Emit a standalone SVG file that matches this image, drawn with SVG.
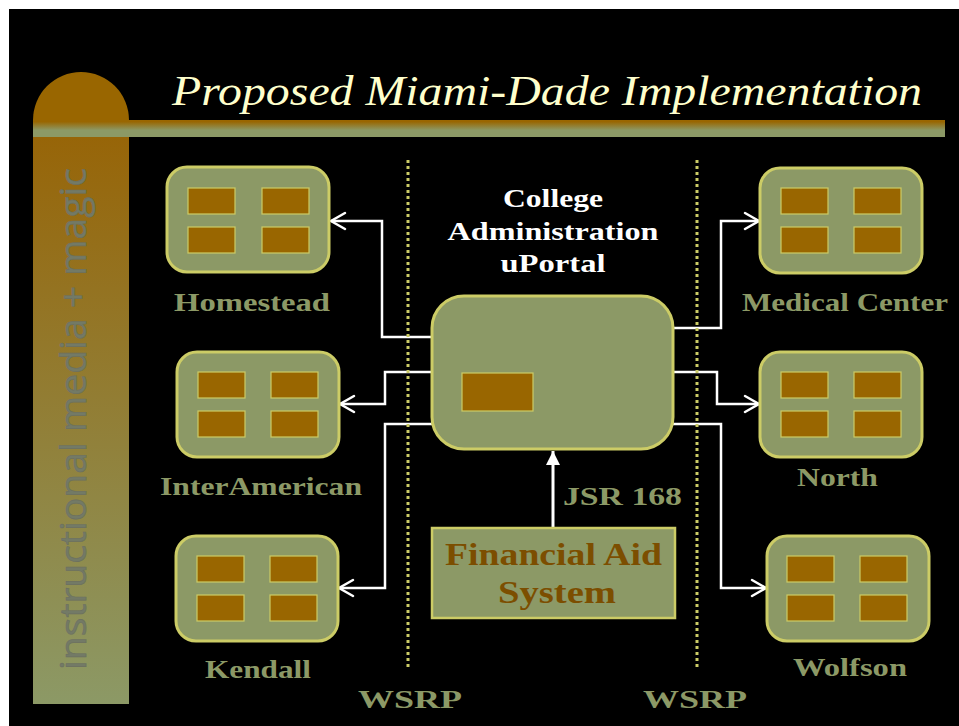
<svg xmlns="http://www.w3.org/2000/svg" width="959" height="726" viewBox="0 0 959 726">
  <defs>
    <linearGradient id="sideBar" x1="0" y1="0" x2="0" y2="1">
      <stop offset="0" stop-color="#976508"/>
      <stop offset="1" stop-color="#8c9966"/>
    </linearGradient>
    <linearGradient id="ruleBar" x1="0" y1="0" x2="0" y2="1">
      <stop offset="0.1" stop-color="#996600"/>
      <stop offset="0.6" stop-color="#8c9966"/>
      <stop offset="1" stop-color="#8c9966"/>
    </linearGradient>
    <marker id="openArrow" markerUnits="userSpaceOnUse" markerWidth="18" markerHeight="20" viewBox="0 0 18 20" refX="16" refY="10" orient="auto">
      <path d="M2,2 L16,10 L2,18" fill="none" stroke="#ffffff" stroke-width="2.5" stroke-linecap="round"/>
    </marker>
    <marker id="solidArrow" markerUnits="userSpaceOnUse" markerWidth="16" markerHeight="14" viewBox="0 0 16 14" refX="14" refY="7" orient="auto">
      <path d="M0,0 L14,7 L0,14 Z" fill="#ffffff"/>
    </marker>
  </defs>
  <style>
    .site { fill: #8c9966; stroke: #cccc66; stroke-width: 3; }
    .slot { fill: #996600; stroke: #cccc66; stroke-width: 1.2; }
    .label { font-family: "Liberation Serif", "DejaVu Serif", serif; font-weight: bold; fill: #8c9966; font-size: 26px; }
    .head { font-family: "Liberation Serif", "DejaVu Serif", serif; font-weight: bold; fill: #ffffff; font-size: 25px; text-anchor: middle; }
    .fin { font-family: "Liberation Serif", "DejaVu Serif", serif; font-weight: bold; fill: #7c4e00; font-size: 32px; }
    .link { fill: none; stroke: #ffffff; stroke-width: 2.5; marker-end: url(#openArrow); }
    .divider { stroke: #cccc66; stroke-width: 3; stroke-dasharray: 3 3; }
  </style>

  <!-- slide background -->
  <rect x="0" y="0" width="959" height="726" fill="#ffffff"/>
  <rect x="9" y="9" width="950" height="717" fill="#000000"/>

  <!-- side bar with rounded cap and header rule -->
  <path d="M33,120 A48,48 0 0 1 129,120 Z" fill="#996600"/>
  <rect x="33" y="137" width="96" height="567" fill="url(#sideBar)"/>
  <rect x="33" y="120" width="912" height="17" fill="url(#ruleBar)"/>
  <text transform="translate(86,670) rotate(-90)" font-family="'Open Sans', 'DejaVu Sans', sans-serif" font-weight="400" font-size="36" fill="#737a66" stroke="#6c7060" stroke-width="0.6" textLength="502" lengthAdjust="spacingAndGlyphs">instructional media + magic</text>

  <!-- title -->
  <text x="172" y="105" font-family="'Liberation Serif', 'DejaVu Serif', serif" font-style="italic" font-size="43" fill="#ffffcc" textLength="750" lengthAdjust="spacingAndGlyphs">Proposed Miami-Dade Implementation</text>

  <!-- connectors -->
  <g id="connectors">
    <path class="link" d="M437,337 H382 V221 H331"/>
    <path class="link" d="M433,372 H385 V404 H340"/>
    <path class="link" d="M433,424 H385 V588 H339"/>
    <path class="link" d="M672,328 H721 V221 H759"/>
    <path class="link" d="M672,372 H717 V404 H759"/>
    <path class="link" d="M672,424 H721 V588 H766"/>
    <path d="M553,528 V451" fill="none" stroke="#ffffff" stroke-width="3" marker-end="url(#solidArrow)"/>
    <line class="divider" x1="408" y1="160" x2="408" y2="670"/>
    <line class="divider" x1="697" y1="160" x2="697" y2="670"/>
  </g>

  <!-- campus portals -->
  <g id="homestead">
    <rect class="site" x="167" y="167" width="162" height="105" rx="20"/>
    <rect class="slot" x="188" y="188" width="47" height="26"/>
    <rect class="slot" x="262" y="188" width="47" height="26"/>
    <rect class="slot" x="188" y="227" width="47" height="26"/>
    <rect class="slot" x="262" y="227" width="47" height="26"/>
    <text class="label" x="174" y="311" textLength="156" lengthAdjust="spacingAndGlyphs">Homestead</text>
  </g>
  <g id="interamerican">
    <rect class="site" x="177" y="352" width="162" height="105" rx="20"/>
    <rect class="slot" x="198" y="372" width="47" height="26"/>
    <rect class="slot" x="271" y="372" width="47" height="26"/>
    <rect class="slot" x="198" y="411" width="47" height="26"/>
    <rect class="slot" x="271" y="411" width="47" height="26"/>
    <text class="label" x="160" y="495" textLength="202" lengthAdjust="spacingAndGlyphs">InterAmerican</text>
  </g>
  <g id="kendall">
    <rect class="site" x="176" y="536" width="162" height="105" rx="20"/>
    <rect class="slot" x="197" y="556" width="47" height="26"/>
    <rect class="slot" x="270" y="556" width="47" height="26"/>
    <rect class="slot" x="197" y="595" width="47" height="26"/>
    <rect class="slot" x="270" y="595" width="47" height="26"/>
    <text class="label" x="205" y="678" textLength="106" lengthAdjust="spacingAndGlyphs">Kendall</text>
  </g>
  <g id="medical-center">
    <rect class="site" x="760" y="168" width="162" height="105" rx="20"/>
    <rect class="slot" x="781" y="188" width="47" height="26"/>
    <rect class="slot" x="854" y="188" width="47" height="26"/>
    <rect class="slot" x="781" y="227" width="47" height="26"/>
    <rect class="slot" x="854" y="227" width="47" height="26"/>
    <text class="label" x="742" y="311" textLength="206" lengthAdjust="spacingAndGlyphs">Medical Center</text>
  </g>
  <g id="north">
    <rect class="site" x="760" y="352" width="162" height="105" rx="20"/>
    <rect class="slot" x="781" y="372" width="47" height="26"/>
    <rect class="slot" x="854" y="372" width="47" height="26"/>
    <rect class="slot" x="781" y="411" width="47" height="26"/>
    <rect class="slot" x="854" y="411" width="47" height="26"/>
    <text class="label" x="797" y="486" textLength="81" lengthAdjust="spacingAndGlyphs">North</text>
  </g>
  <g id="wolfson">
    <rect class="site" x="767" y="536" width="162" height="105" rx="20"/>
    <rect class="slot" x="787" y="556" width="47" height="26"/>
    <rect class="slot" x="860" y="556" width="47" height="26"/>
    <rect class="slot" x="787" y="595" width="47" height="26"/>
    <rect class="slot" x="860" y="595" width="47" height="26"/>
    <text class="label" x="793" y="676" textLength="114" lengthAdjust="spacingAndGlyphs">Wolfson</text>
  </g>

  <!-- central college portal -->
  <g id="college-portal">
    <text class="head" x="553" y="207" textLength="100" lengthAdjust="spacingAndGlyphs">College</text>
    <text class="head" x="553" y="240" textLength="211" lengthAdjust="spacingAndGlyphs">Administration</text>
    <text class="head" x="553" y="272" textLength="105" lengthAdjust="spacingAndGlyphs">uPortal</text>
    <rect class="site" x="432" y="296" width="241" height="153" rx="32"/>
    <rect class="slot" x="462" y="373" width="71" height="38"/>
  </g>

  <!-- producer system -->
  <g id="financial-aid">
    <rect x="432" y="528" width="243" height="90" fill="#8c9966" stroke="#cccc66" stroke-width="2.5"/>
    <text class="fin" x="445" y="565" textLength="217" lengthAdjust="spacingAndGlyphs">Financial Aid</text>
    <text class="fin" x="498" y="603" textLength="118" lengthAdjust="spacingAndGlyphs">System</text>
  </g>

  <!-- protocol labels -->
  <g id="protocol-labels">
    <text class="label" x="563" y="505" font-size="29" textLength="119" lengthAdjust="spacingAndGlyphs">JSR 168</text>
    <text class="label" x="358" y="708" font-size="30" textLength="104" lengthAdjust="spacingAndGlyphs">WSRP</text>
    <text class="label" x="643" y="708" font-size="30" textLength="104" lengthAdjust="spacingAndGlyphs">WSRP</text>
  </g>
</svg>
